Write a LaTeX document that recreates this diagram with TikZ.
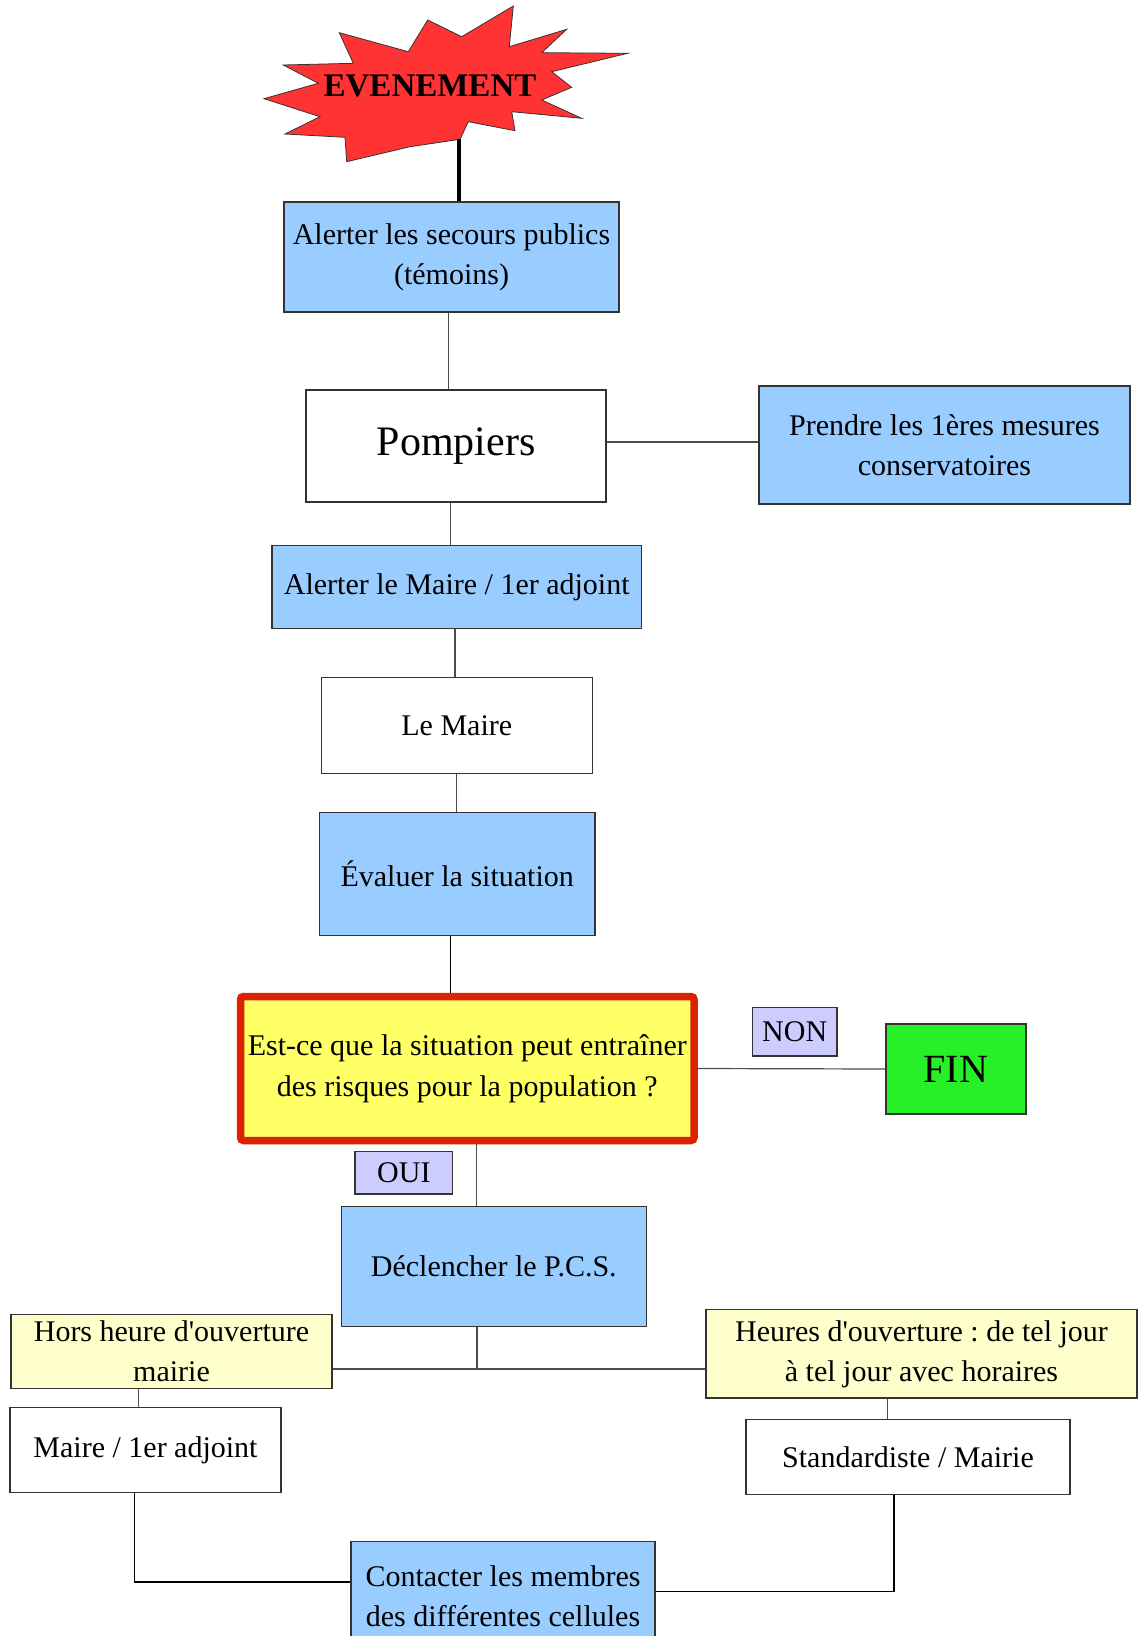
\documentclass[tikz,border=0pt]{standalone}
\usepackage{fontspec}
\setmainfont{Liberation Serif}
\frenchspacing
\definecolor{bleu}{RGB}{153,204,255}
\definecolor{jaune}{RGB}{255,255,102}
\definecolor{jaunepale}{RGB}{255,255,204}
\definecolor{rouge}{RGB}{221,34,0}
\definecolor{rougevif}{RGB}{255,51,51}
\definecolor{lavande}{RGB}{204,204,255}
\definecolor{vert}{RGB}{40,240,40}
\begin{document}
\begin{tikzpicture}[x=1pt,y=-1pt,
	boite/.style={draw=black!80,line width=1.2pt,inner sep=0pt,align=center,font=\fontsize{30}{40}\selectfont},
	bleue/.style={boite,fill=bleu},
	blanche/.style={boite,fill=white},
	pale/.style={boite,fill=jaunepale},
	etiquette/.style={boite,fill=lavande},
	lien/.style={draw=black!70,line width=1.2pt}]
	\useasboundingbox (0,0) rectangle (1139,1636);
	\clip (0,0) rectangle (1139,1636);
	\filldraw[fill=rougevif,draw=black!80,line width=0.8pt] (264,98.7) -- (320,116.7) -- (285,134) -- (345,137.3) -- (346.7,161.7) -- (410,146.7) -- (460,139.3) -- (468.3,121.7) -- (515,130.7) -- (511.7,111.7) -- (581.7,118.3) -- (541.7,100) -- (571.7,87.3) -- (551.7,71.7) -- (627.7,53.3) -- (541.7,52.7) -- (566.7,29.3) -- (509.3,46.7) -- (513.3,6) -- (461.7,36.7) -- (427.7,20) -- (408.3,51.7) -- (339.3,32.7) -- (353.3,63.3) -- (283.3,65) -- (318.3,83.3) -- cycle;
	\node[font=\fontsize{33}{33}\selectfont\bfseries] (evenement) at (430,86) {EVENEMENT};
	\coordinate (pied) at (459,139);
	\node[bleue,minimum width=335,minimum height=110] (secours) at (451.5,257) {Alerter les secours publics\\(témoins)};
	\node[blanche,minimum width=300,minimum height=112,font=\fontsize{42}{50}\selectfont] (pompiers) at (456,446) {Pompiers};
	\node[bleue,minimum width=371,minimum height=118] (mesures) at (944.5,445) {Prendre les 1ères mesures\\conservatoires};
	\node[bleue,minimum width=369.5,minimum height=83] (alerteMaire) at (456.75,587) {Alerter le Maire / 1er adjoint};
	\node[blanche,minimum width=271,minimum height=96] (maire) at (456.8,725.3) {Le Maire};
	\node[bleue,minimum width=275.7,minimum height=123.4] (evaluer) at (457.2,874) {Évaluer la situation};
	\node[boite,fill=jaune,draw=rouge,line width=7.5pt,rounded corners=3pt,minimum width=453.5,minimum height=144,font=\fontsize{30}{41}\selectfont] (question) at (467.25,1068.5) {Est-ce que la situation peut entraîner\\des risques pour la population~?};
	\node[etiquette,minimum width=84.6,minimum height=48.3] (non) at (794.7,1031.9) {NON};
	\node[boite,fill=vert,minimum width=140,minimum height=90,font=\fontsize{40}{40}\selectfont] (fin) at (955.9,1069) {FIN};
	\node[etiquette,minimum width=97.7,minimum height=42.3] (oui) at (403.9,1172.9) {OUI};
	\node[bleue,minimum width=305,minimum height=120] (pcs) at (493.8,1266.7) {Déclencher le P.C.S.};
	\node[pale,minimum width=321,minimum height=74] (hors) at (171.5,1351.3) {Hors heure d\textquotesingle ouverture\\mairie};
	\node[pale,minimum width=431,minimum height=88.3] (heures) at (921.5,1353.9) {Heures d\textquotesingle ouverture : de tel jour\\à tel jour avec horaires};
	\node[blanche,minimum width=271,minimum height=84.6] (maireAdjoint) at (145.5,1450) {Maire / 1er adjoint};
	\node[blanche,minimum width=324,minimum height=75.4] (standard) at (908,1457) {Standardiste / Mairie};
	\node[bleue,minimum width=304,minimum height=108.6] (contacter) at (503,1596) {Contacter les membres\\des différentes cellules};
	\coordinate (jonction) at (477,1369);
	\draw[line width=3.5pt] (pied) -- (pied |- secours.north);
	\draw[lien] ([xshift=-3pt]secours.south) -- ([xshift=-3pt]secours.south |- pompiers.north);
	\draw[lien] ([yshift=4pt]pompiers.east) -- ([yshift=4pt]pompiers.east -| mesures.west);
	\draw[lien] ([xshift=-5.4pt]pompiers.south) -- ([xshift=-5.4pt]pompiers.south |- alerteMaire.north);
	\draw[lien] ([xshift=-1.7pt]alerteMaire.south) -- ([xshift=-1.7pt]alerteMaire.south |- maire.north);
	\draw[lien] (maire.south) -- (maire.south |- evaluer.north);
	\draw[lien,draw=black] ([xshift=-7pt]evaluer.south) -- ([xshift=-7pt]evaluer.south |- question.north);
	\draw[lien] (question.east) -- (fin.west);
	\draw[lien] ([xshift=9.5pt]question.south) -- ([xshift=9.5pt]question.south |- pcs.north);
	\draw[lien] (pcs.south -| jonction) -- (jonction);
	\draw[lien] (hors.east |- jonction) -- (heures.west |- jonction);
	\draw[lien] ([xshift=-32.8pt]hors.south) -- ([xshift=-32.8pt]hors.south |- maireAdjoint.north);
	\draw[lien] ([xshift=-34pt]heures.south) -- ([xshift=-34pt]heures.south |- standard.north);
	\draw[lien,draw=black] ([xshift=-11pt]maireAdjoint.south) |- ([yshift=14pt]contacter.west);
	\draw[lien,draw=black] ([xshift=-14pt]standard.south) |- ([yshift=4.7pt]contacter.east);
\end{tikzpicture}
\end{document}
